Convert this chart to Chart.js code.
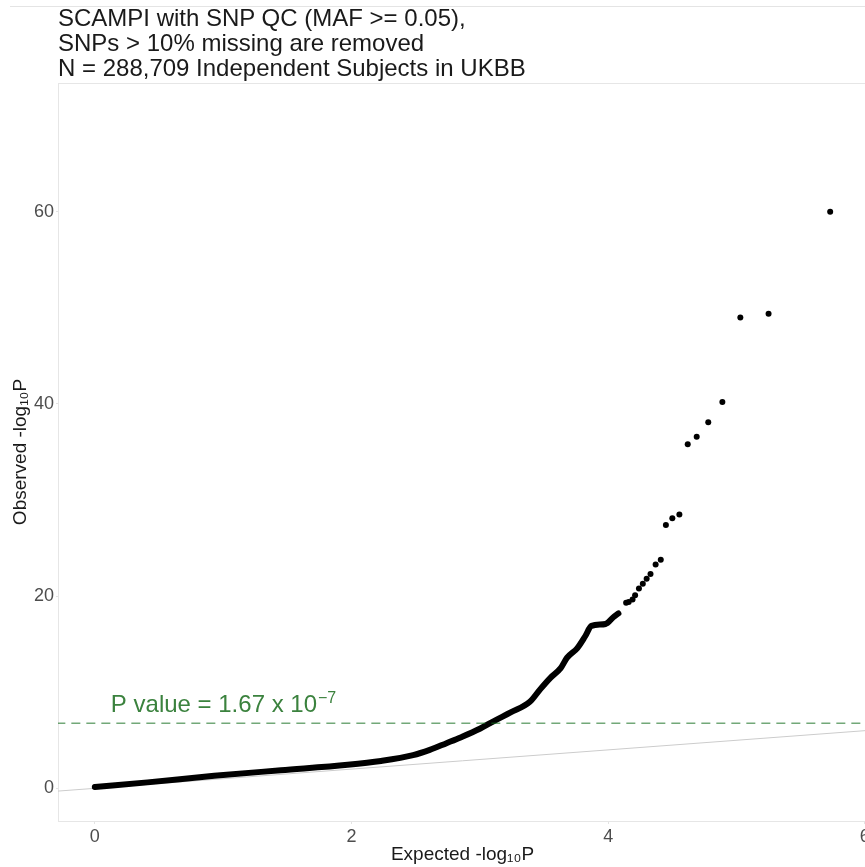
<!DOCTYPE html>
<html><head><meta charset="utf-8">
<script src="https://cdn.jsdelivr.net/npm/chart.js@4.4.1/dist/chart.umd.min.js"></script>
<style>
html,body{margin:0;padding:0;background:#fff;overflow:hidden;width:865px;height:867px;}
#wrap{position:absolute;left:0;top:0;width:900px;height:867px;}
#title{position:absolute;left:58px;top:5px;font:24px 'Liberation Sans',Arial,sans-serif;line-height:25px;color:#1a1a1a;white-space:nowrap;z-index:2}
#topline{position:absolute;left:10px;top:6px;width:855px;height:0;border-top:1px solid #e4e4e4;}
</style></head><body>
<div id="topline"></div>
<div id="wrap"><canvas id="c" width="900" height="867"></canvas></div>
<div id="title">SCAMPI with SNP QC (MAF &gt;= 0.05),<br>SNPs &gt; 10% missing are removed<br>N = 288,709 Independent Subjects in UKBB</div>
<script>
// ---- data ----
const xTicks = [0, 2, 4, 6];
const yTicks = [0, 20, 40, 60];
const xRange = [-0.287, 6.017];
const yRange = [-3.4, 73.4];

// dense part of the QQ curve (expected, observed)
const curveX = [0.00, 0.41, 0.93, 1.45, 1.97, 2.23, 2.48, 2.61, 2.74, 2.85, 3.00, 3.11, 3.24, 3.39, 3.47, 3.55, 3.63, 3.68, 3.76, 3.82, 3.87, 3.98, 4.04, 4.08];
const curveY = [0.15, 0.62, 1.30, 1.88, 2.45, 2.85, 3.45, 4.00, 4.70, 5.30, 6.20, 7.00, 7.90, 9.00, 10.3, 11.5, 12.5, 13.6, 14.6, 15.8, 16.9, 17.1, 17.8, 18.2];

// sparse top SNPs
const tailX = [4.14, 4.16, 4.19, 4.21, 4.24, 4.27, 4.30, 4.33, 4.37, 4.41, 4.45, 4.50, 4.555, 4.62, 4.69, 4.78, 4.89, 5.03, 5.25, 5.73];
const tailY = [19.3, 19.4, 19.65, 20.1, 20.8, 21.3, 21.8, 22.3, 23.3, 23.8, 27.4, 28.1, 28.5, 35.8, 36.6, 38.1, 40.2, 49.0, 49.4, 60.0];

// reference y = x line and significance threshold
const refLineX = [-0.3, 6.1];
const thresholdY = 6.78;
const thresholdLabel = 'P value = 1.67 x 10';
const thresholdExp = '\u22127';

const xTitle = 'Expected -log\u2081\u2080P';
const yTitle = 'Observed -log\u2081\u2080P';

// ---- build datasets ----
const zip = (xs, ys) => xs.map((x, i) => ({x, y: ys[i]}));
const FONT = "'Liberation Sans', Arial, 'DejaVu Sans', sans-serif";

const panelPlugin = {
  id: 'panel',
  beforeDatasetsDraw(chart) {
    const {ctx, chartArea: a} = chart;
    ctx.save();
    ctx.strokeStyle = '#e6e6e6';
    ctx.lineWidth = 1;
    ctx.strokeRect(a.left + 0.5, a.top + 0.5, a.right - a.left, a.bottom - a.top);
    ctx.restore();
  }
};
const labelPlugin = {
  id: 'thrLabel',
  afterDatasetsDraw(chart) {
    const {ctx} = chart;
    const xs = chart.scales.x, ys = chart.scales.y;
    const px = xs.getPixelForValue(0.125);
    const py = ys.getPixelForValue(thresholdY) - 11;
    ctx.save();
    ctx.fillStyle = '#3b823e';
    ctx.textBaseline = 'alphabetic';
    ctx.textAlign = 'left';
    ctx.font = '24px ' + FONT;
    ctx.fillText(thresholdLabel, px, py);
    const w = ctx.measureText(thresholdLabel).width;
    ctx.font = '16px ' + FONT;
    ctx.fillText(thresholdExp, px + w + 1, py - 9);
    ctx.restore();
  }
};

new Chart(document.getElementById('c'), {
  type: 'scatter',
  data: {
    datasets: [
      {
        label: 'threshold', type: 'line', order: 0,
        data: zip(refLineX, [thresholdY, thresholdY]),
        borderColor: 'rgba(20,110,30,0.6)', borderWidth: 1.5, borderDash: [9, 6],
        pointRadius: 0, fill: false
      },
      {
        label: 'curve', type: 'line', order: 1,
        data: zip(curveX, curveY),
        borderColor: '#000', borderWidth: 6, borderCapStyle: 'round', borderJoinStyle: 'round',
        cubicInterpolationMode: 'monotone', pointRadius: 0, fill: false
      },
      {
        label: 'top', order: 1,
        data: zip(tailX, tailY),
        backgroundColor: '#000', borderWidth: 0, pointRadius: 3
      },
      {
        label: 'ref', type: 'line', order: 2,
        data: zip(refLineX, refLineX),
        borderColor: '#cccccc', borderWidth: 1, pointRadius: 0, fill: false
      }
    ]
  },
  options: {
    responsive: false,
    animation: false,
    devicePixelRatio: 1,
    layout: {padding: {top: 83, right: 33, bottom: 0, left: 0}},
    plugins: {legend: {display: false}, tooltip: {enabled: false}, title: {display: false}},
    scales: {
      x: {
        type: 'linear', min: xRange[0], max: xRange[1],
        afterBuildTicks: s => { s.ticks = xTicks.map(v => ({value: v})); },
        afterFit: s => { s.height = 46; },
        ticks: {font: {size: 18, family: FONT}, color: '#4d4d4d', padding: 2, maxRotation: 0, autoSkip: false},
        grid: {display: true, drawOnChartArea: false, drawTicks: true, tickLength: 3, color: '#e3e3e3'},
        border: {display: false},
        title: {display: true, text: xTitle, font: {size: 19, family: FONT}, color: '#1a1a1a', padding: {top: 0, bottom: 1}}
      },
      y: {
        type: 'linear', min: yRange[0], max: yRange[1],
        afterBuildTicks: s => { s.ticks = yTicks.map(v => ({value: v})); },
        afterFit: s => { s.width = 58; },
        ticks: {font: {size: 18, family: FONT}, color: '#4d4d4d', padding: 2},
        grid: {display: true, drawOnChartArea: false, drawTicks: true, tickLength: 2, color: '#e3e3e3'},
        border: {display: false},
        title: {display: true, text: yTitle, font: {size: 19, family: FONT}, color: '#1a1a1a', padding: {top: 9, bottom: 0}}
      }
    }
  },
  plugins: [panelPlugin, labelPlugin]
});
</script>
</body></html>
